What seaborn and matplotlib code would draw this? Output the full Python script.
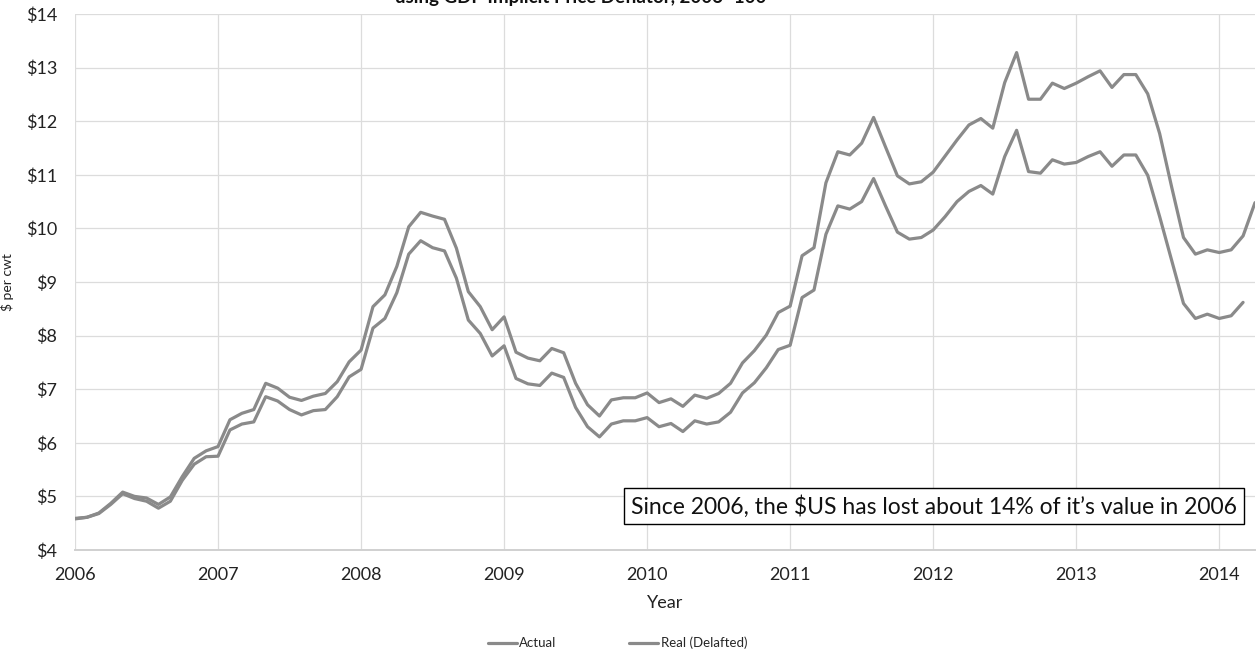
import numpy as np
import pandas as pd
import matplotlib
matplotlib.use('Agg')
import matplotlib.pyplot as plt
import seaborn as sns

# monthly prices, Jan 2006 onward ($ per cwt)
actual = [
    4.59, 4.61, 4.69, 4.87, 5.08, 5.00, 4.97, 4.85, 4.99, 5.37, 5.71, 5.85,
    5.93, 6.43, 6.55, 6.62, 7.11, 7.02, 6.85, 6.79, 6.87, 6.92, 7.14, 7.51,
    7.73, 8.54, 8.76, 9.29, 10.03, 10.30, 10.23, 10.17, 9.63, 8.82, 8.54, 8.11,
    8.35, 7.69, 7.58, 7.53, 7.76, 7.68, 7.11, 6.71, 6.50, 6.80, 6.84, 6.84,
    6.93, 6.75, 6.82, 6.68, 6.89, 6.83, 6.92, 7.11, 7.49, 7.72, 8.01, 8.43,
    8.55, 9.49, 9.64, 10.85, 11.43, 11.37, 11.59, 12.07, 11.52, 10.98, 10.83, 10.87,
    11.05, 11.35, 11.65, 11.93, 12.05, 11.87, 12.72, 13.28, 12.41, 12.41, 12.71, 12.61,
    12.71, 12.83, 12.94, 12.63, 12.87, 12.87, 12.51, 11.77, 10.78, 9.83, 9.52, 9.60,
    9.55, 9.60, 9.86, 10.48,
]
real = [
    4.58, 4.61, 4.68, 4.85, 5.05, 4.96, 4.91, 4.78, 4.91, 5.30, 5.60, 5.74,
    5.75, 6.24, 6.35, 6.39, 6.86, 6.78, 6.62, 6.52, 6.60, 6.62, 6.86, 7.23,
    7.37, 8.14, 8.32, 8.80, 9.52, 9.77, 9.64, 9.58, 9.07, 8.29, 8.04, 7.62,
    7.81, 7.20, 7.10, 7.07, 7.30, 7.22, 6.66, 6.30, 6.11, 6.35, 6.41, 6.41,
    6.47, 6.30, 6.36, 6.21, 6.41, 6.35, 6.39, 6.57, 6.93, 7.12, 7.40, 7.74,
    7.82, 8.71, 8.85, 9.89, 10.42, 10.36, 10.50, 10.93, 10.42, 9.93, 9.80, 9.83,
    9.97, 10.22, 10.50, 10.69, 10.80, 10.64, 11.34, 11.83, 11.06, 11.03, 11.28, 11.20,
    11.23, 11.34, 11.43, 11.16, 11.37, 11.37, 10.99, 10.22, 9.41, 8.60, 8.32, 8.40,
    8.32, 8.37, 8.62,
]
series_names = ['Actual', 'Real (Delafted)']
years = list(range(2006, 2015))
y_ticks = list(range(4, 15))

title = 'using GDP Implicit Price Deflator, 2006=100'
note = 'Since 2006, the $US has lost about 14% of it\u2019s value in 2006'

frames = []
for name, vals in zip(series_names, [actual, real]):
    t = 2006 + np.arange(len(vals)) / 12
    frames.append(pd.DataFrame({'year': t, 'price': vals, 'series': name}))
df = pd.concat(frames, ignore_index=True)

sns.set_theme(style='whitegrid')
plt.rcParams['font.family'] = ['Lato', 'DejaVu Sans']

fig = plt.figure(figsize=(12.6, 6.55), dpi=100)
ax = fig.add_axes([75 / 1260, 1 - 550 / 655, 1180 / 1260, 536 / 655])

line_grey = '#8a8a8a'
sns.lineplot(data=df, x='year', y='price', hue='series', palette=[line_grey, line_grey],
             linewidth=2.3, ax=ax, legend=True)

ax.set_xlim(2006, 2006 + 99 / 12)
ax.set_ylim(4, 14)
ax.set_xticks(years)
ax.set_xticklabels([str(y) for y in years])
ax.set_yticks(y_ticks)
ax.set_yticklabels([f'${v}' for v in y_ticks])
ax.tick_params(axis='both', length=0, labelsize=13, colors='#222222')
ax.tick_params(axis='y', pad=13)
ax.tick_params(axis='x', pad=12)
ax.grid(True, color='#dcdcdc', linewidth=0.9)
ax.set_facecolor('white')
for side in ['left', 'right', 'top']:
    ax.spines[side].set_visible(False)
ax.spines['bottom'].set_color('#d0d0d0')
ax.spines['bottom'].set_linewidth(1.4)

ax.set_xlabel('Year', fontsize=13, color='#222222', labelpad=9)
ax.set_ylabel('$ per cwt', fontsize=10, color='#222222', labelpad=8)

ax.text(0.985, 0.082, note, transform=ax.transAxes, ha='right', va='center',
        fontsize=16.5, color='#111111',
        bbox=dict(boxstyle='square,pad=0.3', facecolor='white', edgecolor='black', linewidth=1))

# the title sits mostly above the canvas, as in the source chart
fig.text(0.461, 1 - 3 / 655, title, ha='center', va='baseline', fontsize=13.5,
         fontweight='bold', color='#111111')

handles, labels = ax.get_legend_handles_labels()
ax.get_legend().remove()
fig.legend(handles, labels, loc='center', bbox_to_anchor=(0.49, 0.018), ncol=2,
           frameon=False, fontsize=9.5, handlelength=2.2, handletextpad=0.2,
           columnspacing=5.5)

fig.savefig('out.png', dpi=100, facecolor='white')
